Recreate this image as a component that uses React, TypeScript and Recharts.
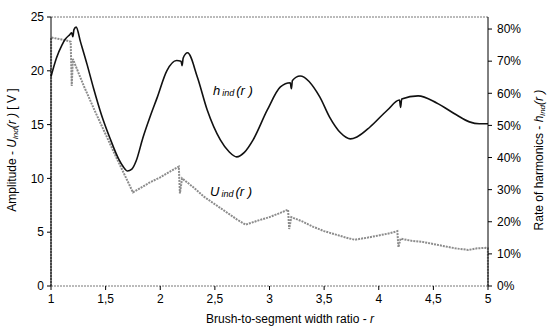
import { LineChart, Line, XAxis, YAxis, ReferenceLine } from 'recharts';

// brush-to-segment width ratio r
const xTicks = [1, 1.5, 2, 2.5, 3, 3.5, 4, 4.5, 5];
const voltTicks = [0, 5, 10, 15, 20, 25];
const pctTicks = [0, 10, 20, 30, 40, 50, 60, 70, 80];

// U_ind(r) [V]
const uR = [1.0, 1.001, 1.05, 1.1, 1.15, 1.18, 1.19, 1.2, 1.3, 1.4, 1.5, 1.6, 1.75, 1.9, 2.0, 2.1, 2.17, 2.18, 2.2, 2.3, 2.4, 2.5, 2.6, 2.7, 2.78, 2.9, 3.0, 3.1, 3.17, 3.18, 3.2, 3.3, 3.4, 3.5, 3.6, 3.7, 3.78, 3.9, 4.0, 4.1, 4.17, 4.18, 4.2, 4.3, 4.4, 4.5, 4.6, 4.7, 4.82, 4.9, 4.98, 4.999, 5.0];
const uVal = [0, 23.1, 23.0, 22.9, 22.8, 22.7, 18.6, 21.1, 18.6, 16.3, 14.1, 11.9, 8.7, 9.6, 10.1, 10.7, 11.1, 8.6, 10.0, 9.2, 8.3, 7.6, 6.9, 6.2, 5.7, 6.1, 6.4, 6.8, 7.1, 5.3, 6.4, 6.0, 5.5, 5.1, 4.8, 4.5, 4.3, 4.5, 4.7, 4.9, 5.1, 3.6, 4.4, 4.2, 4.1, 3.9, 3.7, 3.5, 3.35, 3.5, 3.55, 3.5, 0];

// h_ind(r) [%]
const hR = [1.0, 1.05, 1.1, 1.13, 1.17, 1.19, 1.2, 1.21, 1.23, 1.27, 1.33, 1.39, 1.46, 1.54, 1.62, 1.66, 1.7, 1.74, 1.78, 1.84, 1.91, 1.97, 2.06, 2.15, 2.19, 2.2, 2.21, 2.25, 2.34, 2.43, 2.55, 2.63, 2.7, 2.77, 2.85, 2.98, 3.1, 3.19, 3.2, 3.21, 3.28, 3.46, 3.55, 3.65, 3.7, 3.74, 3.8, 3.92, 4.08, 4.19, 4.2, 4.21, 4.36, 4.53, 4.71, 4.83, 4.92, 5.0];
const hVal = [65.2, 71, 75, 76.8, 78.2, 78.8, 77.6, 79.8, 80.6, 76, 69, 61.5, 53.5, 46, 39.5, 37.2, 35.8, 36.4, 39, 46, 53, 58.5, 67, 70.2, 70, 68.6, 71, 72.6, 65, 54.8, 45.5, 41.8, 40.2, 41.6, 45.5, 54.8, 62, 63.3, 61.4, 64, 65.4, 58.9, 52.6, 47.7, 46.3, 45.8, 46.4, 49.5, 54.8, 57.9, 55.6, 58.2, 59.2, 57, 53.3, 51.1, 50.5, 50.5];

const uData = uR.map((r, i) => ({ r, u: uVal[i] }));
const hData = hR.map((r, i) => ({ r, h: hVal[i] }));

const font = '"Liberation Sans", Arial, sans-serif';
const comma = (v: number) => String(v).replace('.', ',');

const App = () => {
  return (
    <div style={{ position: 'relative', width: 548, height: 334, fontFamily: font }}>
      <style>{'body{margin:0;background:#fff}'}</style>
      <LineChart
        width={548}
        height={334}
        margin={{ top: 17, right: 15, bottom: 18, left: 13 }}
      >
        <XAxis
          dataKey="r"
          type="number"
          domain={[1, 5]}
          ticks={xTicks}
          tickFormatter={comma}
          allowDuplicatedCategory={false}
          height={30}
          axisLine={{ stroke: '#777', strokeDasharray: '2 1' }}
          tickLine={{ stroke: '#000' }}
          tickSize={4}
          tick={{ fill: '#000', fontSize: 12, fontFamily: font }}
          tickMargin={4}
        />
        <YAxis
          yAxisId="v"
          domain={[0, 25]}
          ticks={voltTicks}
          width={38}
          axisLine={{ stroke: '#000' }}
          tickLine={{ stroke: '#000' }}
          tickSize={4}
          tick={{ fill: '#000', fontSize: 12, fontFamily: font }}
          tickMargin={3}
        />
        <YAxis
          yAxisId="h"
          orientation="right"
          domain={[0, 83.75]}
          ticks={pctTicks}
          tickFormatter={(v: number) => v + '%'}
          width={45}
          axisLine={{ stroke: '#000' }}
          tickLine={{ stroke: '#000' }}
          tickSize={4}
          tick={{ fill: '#000', fontSize: 12, fontFamily: font, textAnchor: 'start' }}
          tickMargin={5}
        />
        <ReferenceLine yAxisId="v" y={25} stroke="#777" strokeDasharray="2 1" />
        <Line
          yAxisId="v"
          data={uData}
          dataKey="u"
          type="linear"
          stroke="#8c8c8c"
          strokeWidth={2}
          strokeDasharray="2 1"
          dot={false}
          isAnimationActive={false}
        />
        <Line
          yAxisId="h"
          data={hData}
          dataKey="h"
          type="monotone"
          stroke="#111"
          strokeWidth={1.6}
          dot={false}
          isAnimationActive={false}
        />
      </LineChart>
      <svg
        width={548}
        height={334}
        style={{ position: 'absolute', left: 0, top: 0, pointerEvents: 'none' }}
      >
        <g fontFamily={font} fill="#000">
          <text x={213} y={95} fontSize={13} fontStyle="italic">
            h<tspan fontSize={9} dx={2} dy={1}>ind</tspan>
            <tspan dy={-1} dx={2}>(r )</tspan>
          </text>
          <text x={210} y={196} fontSize={13} fontStyle="italic">
            U<tspan fontSize={9} dx={2} dy={1}>ind</tspan>
            <tspan dy={-1} dx={2}>(r )</tspan>
          </text>
          <text x={290} y={323} fontSize={12} textAnchor="middle">
            Brush-to-segment width ratio - <tspan fontStyle="italic">r</tspan>
          </text>
          <text transform="translate(16,150) rotate(-90)" fontSize={12} textAnchor="middle">
            Amplitude - <tspan fontStyle="italic">U</tspan>
            <tspan fontSize={8} fontStyle="italic" dy={2}>ind</tspan>
            <tspan dy={-2} fontStyle="italic">(r )</tspan> [ V ]
          </text>
          <text transform="translate(543,160) rotate(-90)" fontSize={12} textAnchor="middle">
            Rate of harmonics - <tspan fontStyle="italic">h</tspan>
            <tspan fontSize={8} fontStyle="italic" dy={2}>ind</tspan>
            <tspan dy={-2} fontStyle="italic">(r )</tspan>
          </text>
        </g>
      </svg>
    </div>
  );
};

export default App;
